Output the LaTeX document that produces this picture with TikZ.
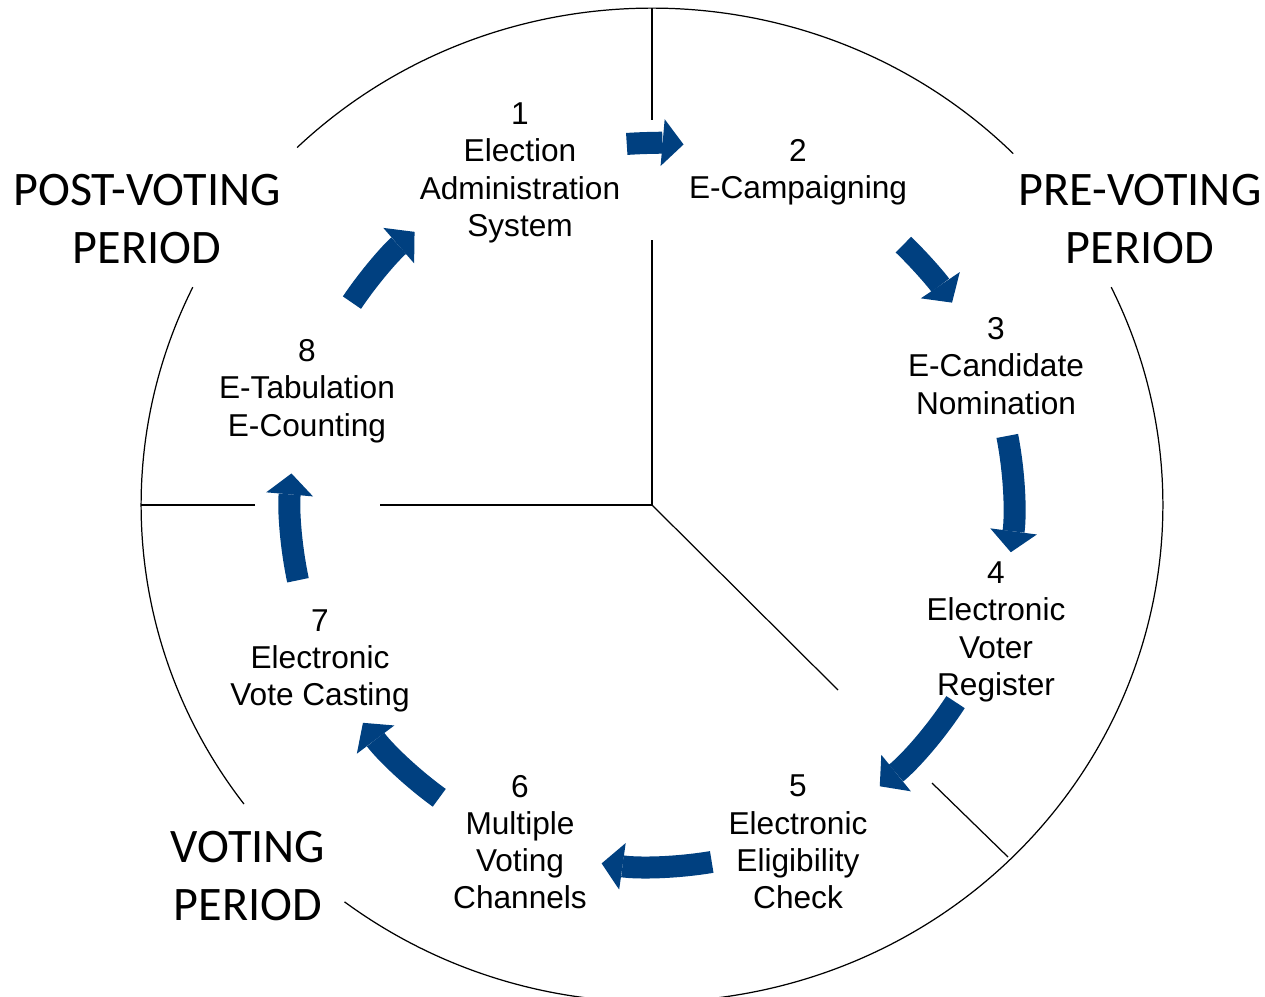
\documentclass[tikz,border=0pt]{standalone}
\usepackage{fontspec}
\setmainfont{Liberation Sans}
\newfontfamily\periodfont{Carlito}
\usetikzlibrary{arrows.meta}
\definecolor{cycleblue}{RGB}{0,64,128}
\newcommand*{\ringx  }{10.22cm}
\newcommand*{\ringy  }{9.94cm}
\newcommand*{\arrowr }{7.24cm}

\begin{document}
\begin{tikzpicture}[x=0.02cm, y=-0.02cm,
    steptext/.style   = {align=center, inner sep=0pt, font=\fontsize{18}{21.2}\selectfont},
    periodtext/.style = {align=center, inner sep=0pt, font=\periodfont\fontsize{27.4}{33}\selectfont},
    cyclearrow/.style = {draw=cycleblue, line width=0.44cm, -{Triangle[width=0.94cm, length=0.42cm, line width=0pt]}},
    divider/.style    = {line width=0.7pt}]
    \useasboundingbox (0,0) rectangle (1265,997);
    \coordinate (c) at (652,505);
    % outer ring, open where the period labels sit
    \draw [divider] ([shift={( 45:10.22cm and 9.94cm)}]c) arc [start angle= 45, end angle=134, x radius=\ringx, y radius=\ringy];
    \draw [divider] ([shift={(154:10.22cm and 9.94cm)}]c) arc [start angle=154, end angle=217, x radius=\ringx, y radius=\ringy];
    \draw [divider] ([shift={(233:10.22cm and 9.94cm)}]c) arc [start angle=233, end angle=386, x radius=\ringx, y radius=\ringy];
    % the three sectors
    \draw [divider] (c) -- (652,240);   \draw [divider] (652,120) -- (652,8);
    \draw [divider] (c) -- (380,505);   \draw [divider] (255,505) -- (141,505);
    \draw [divider] (c) -- (838,690);   \draw [divider] (932,783) -- (1008,857);
    % steps
    \node [steptext] (s1) at (520,173) {1\\Election\\Administration\\System};
    \node [steptext] (s2) at (798,172) {2\\E-Campaigning};
    \node [steptext] (s3) at (996,366) {3\\E-Candidate\\Nomination};
    \node [steptext] (s4) at (996,632) {4\\Electronic\\Voter\\Register};
    \node [steptext] (s5) at (798,842) {5\\Electronic\\Eligibility\\Check};
    \node [steptext] (s6) at (520,842) {6\\Multiple\\Voting\\Channels};
    \node [steptext] (s7) at (320,661) {7\\Electronic\\Vote Casting};
    \node [steptext] (s8) at (307,391) {8\\E-Tabulation\\E-Counting};
    % periods
    \node [periodtext] (post)   at ( 147,219) {POST-VOTING\\PERIOD};
    \node [periodtext] (pre)    at (1140,219) {PRE-VOTING\\PERIOD};
    \node [periodtext] (voting) at ( 248,876) {VOTING\\PERIOD};
    % cycle arrows
    \foreach \a/\b in {94/85, 46/34, 11/-7.5, -33/-51, -80.5/-98, 234/217, 192/175, 146/131}
        \draw [cyclearrow] ([shift={(\a:\arrowr)}]c) arc [start angle=\a, end angle=\b, radius=\arrowr];
\end{tikzpicture}
\end{document}
